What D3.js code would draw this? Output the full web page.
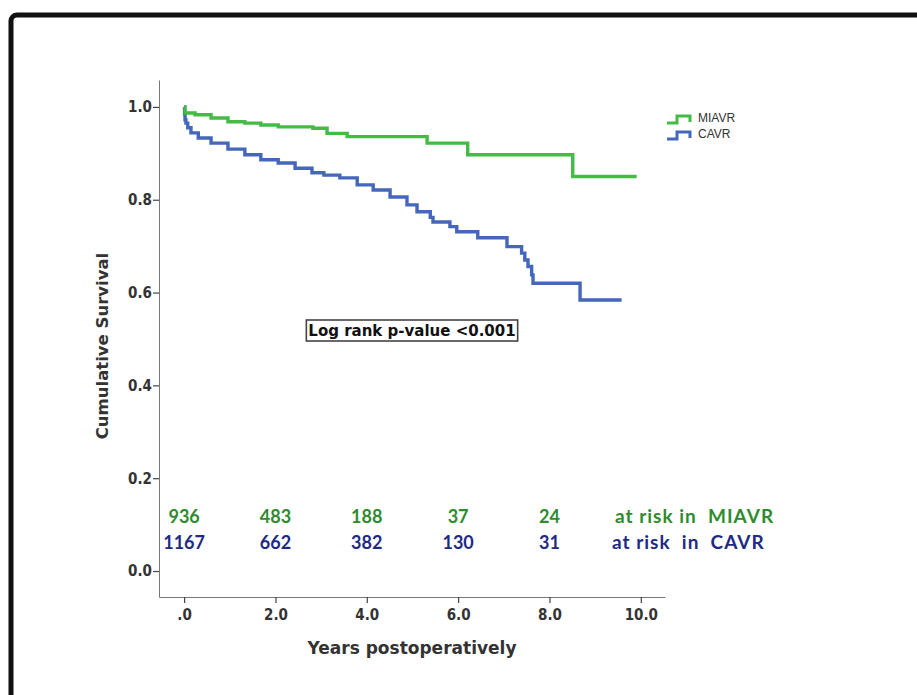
<!DOCTYPE html>
<html>
<head>
<meta charset="utf-8">
<script src="https://cdn.jsdelivr.net/npm/d3@7"></script>
<style>
  body { margin: 0; background: #fff; }
  svg { display: block; }
</style>
</head>
<body>
<script>
// Kaplan-Meier curves: [years, survival]
const miavr = [
  [0, 1.0], [0.02, 0.987], [0.24, 0.983], [0.59, 0.976], [0.96, 0.968],
  [1.33, 0.965], [1.68, 0.961], [2.06, 0.957], [2.82, 0.954], [3.13, 0.943],
  [3.57, 0.936], [5.32, 0.922], [6.21, 0.897], [8.51, 0.85], [9.91, 0.85]
];
const cavr = [
  [0, 1.0], [0.01, 0.985], [0.02, 0.972], [0.04, 0.965], [0.08, 0.955],
  [0.15, 0.944], [0.31, 0.933], [0.59, 0.922], [0.96, 0.909], [1.33, 0.897],
  [1.68, 0.886], [2.06, 0.879], [2.43, 0.868], [2.80, 0.858], [3.06, 0.853],
  [3.41, 0.847], [3.79, 0.832], [4.14, 0.821], [4.51, 0.806], [4.88, 0.789],
  [5.10, 0.774], [5.39, 0.762], [5.45, 0.752], [5.82, 0.742], [5.97, 0.731],
  [6.43, 0.718], [7.07, 0.699], [7.39, 0.685], [7.46, 0.670], [7.53, 0.656],
  [7.61, 0.638], [7.64, 0.620], [8.67, 0.584], [9.58, 0.584]
];

const riskYears = [0, 2, 4, 6, 8];
const riskMiavr = [936, 483, 188, 37, 24];
const riskCavr = [1167, 662, 382, 130, 31];

const xTicks = [0, 2, 4, 6, 8, 10];
const yTicks = [0, 0.2, 0.4, 0.6, 0.8, 1.0];

const W = 917, H = 695;

const svg = d3.select('body').append('svg')
    .attr('width', W)
    .attr('height', H);

// outer frame
svg.append('rect')
    .attr('x', 11).attr('y', 15)
    .attr('width', 1000).attr('height', 800)
    .attr('rx', 6)
    .attr('fill', 'none')
    .attr('stroke', '#111')
    .attr('stroke-width', 5);

const x = d3.scaleLinear().domain([-0.55, 10.53]).range([159, 665]);
const y = d3.scaleLinear().domain([-0.056, 1.058]).range([597, 80]);

const xAxis = d3.axisBottom(x)
    .tickValues(xTicks)
    .tickSize(6)
    .tickSizeOuter(0)
    .tickFormat(d => d === 0 ? '.0' : d.toFixed(1));

const yAxis = d3.axisLeft(y)
    .tickValues(yTicks)
    .tickSize(6)
    .tickSizeOuter(0)
    .tickFormat(d => d.toFixed(1));

const gx = svg.append('g')
    .attr('transform', 'translate(0,597)')
    .call(xAxis);
const gy = svg.append('g')
    .attr('transform', 'translate(159,0)')
    .call(yAxis);

[gx, gy].forEach(g => {
  g.select('.domain').attr('stroke', '#777');
  g.selectAll('.tick line').attr('stroke', '#444').attr('stroke-width', 1.2);
  g.selectAll('.tick text')
      .attr('fill', '#333')
      .style('font-family', 'DejaVu Sans Condensed, DejaVu Sans, sans-serif')
      .style('font-weight', 'bold')
      .style('font-size', '15px');
});
gx.selectAll('.tick text').attr('dy', '0.95em');
gy.selectAll('.tick text').attr('x', -7);

svg.append('text')
    .attr('transform', 'translate(108,346) rotate(-90)')
    .attr('text-anchor', 'middle')
    .attr('fill', '#333')
    .style('font-family', 'DejaVu Sans, sans-serif')
    .style('font-weight', 'bold')
    .style('font-size', '16.5px')
    .text('Cumulative Survival');

svg.append('text')
    .attr('x', 412).attr('y', 654)
    .attr('text-anchor', 'middle')
    .attr('fill', '#333')
    .style('font-family', 'DejaVu Sans, sans-serif')
    .style('font-weight', 'bold')
    .style('font-size', '17px')
    .text('Years postoperatively');

// survival curves
const line = d3.line()
    .x(d => x(d[0]))
    .y(d => y(d[1]))
    .curve(d3.curveStepAfter);

svg.append('path')
    .datum(cavr)
    .attr('d', line)
    .attr('fill', 'none')
    .attr('stroke', '#4466bb')
    .attr('stroke-width', 3.4);

svg.append('path')
    .datum(miavr)
    .attr('d', line)
    .attr('fill', 'none')
    .attr('stroke', '#44bb44')
    .attr('stroke-width', 3.4);

// legend
const legend = [
  { name: 'MIAVR', color: '#44bb44' },
  { name: 'CAVR', color: '#4466bb' }
];
const lg = svg.append('g').attr('transform', 'translate(667,118)');
legend.forEach((d, i) => {
  const g = lg.append('g').attr('transform', `translate(0,${i * 16})`);
  g.append('path')
      .attr('d', 'M0,5 H10 V-2 H23 V4')
      .attr('fill', 'none')
      .attr('stroke', d.color)
      .attr('stroke-width', 3);
  g.append('text')
      .attr('x', 31).attr('y', 4)
      .attr('fill', '#333')
      .style('font-family', 'Liberation Sans Narrow, Arial Narrow, sans-serif')
      .style('font-size', '12px')
      .text(d.name);
});

// log rank box
const lr = svg.append('g');
const lrText = lr.append('text')
    .attr('x', 412).attr('y', 336)
    .attr('text-anchor', 'middle')
    .attr('fill', '#111')
    .style('font-family', 'DejaVu Sans, sans-serif')
    .style('font-weight', 'bold')
    .style('font-size', '15px')
    .text('Log rank p-value <0.001');
const bb = lrText.node().getBBox();
lr.insert('rect', 'text')
    .attr('x', bb.x - 2).attr('y', 320)
    .attr('width', bb.width + 4).attr('height', 21)
    .attr('fill', '#fff')
    .attr('stroke', '#444')
    .attr('stroke-width', 1.6);

// numbers at risk
const riskRows = [
  { values: riskMiavr, label: 'at risk in  MIAVR', color: '#2e8b2e', y: 523, lx: 615 },
  { values: riskCavr, label: 'at risk  in  CAVR', color: '#1e2a85', y: 549, lx: 612 }
];
riskRows.forEach(r => {
  svg.selectAll(null)
      .data(r.values)
      .enter().append('text')
      .attr('x', (d, i) => x(riskYears[i]))
      .attr('y', r.y)
      .attr('text-anchor', 'middle')
      .attr('fill', r.color)
      .style('font-family', 'Lato, sans-serif')
      .style('font-weight', 'bold')
      .style('font-size', '18px')
      .text(d => d);
  svg.append('text')
      .attr('x', r.lx).attr('y', r.y)
      .attr('fill', r.color)
      .attr('xml:space', 'preserve')
      .style('white-space', 'pre')
      .style('letter-spacing', '1px')
      .style('font-family', 'Lato, sans-serif')
      .style('font-weight', 'bold')
      .style('font-size', '19px')
      .text(r.label);
});
</script>
</body>
</html>
